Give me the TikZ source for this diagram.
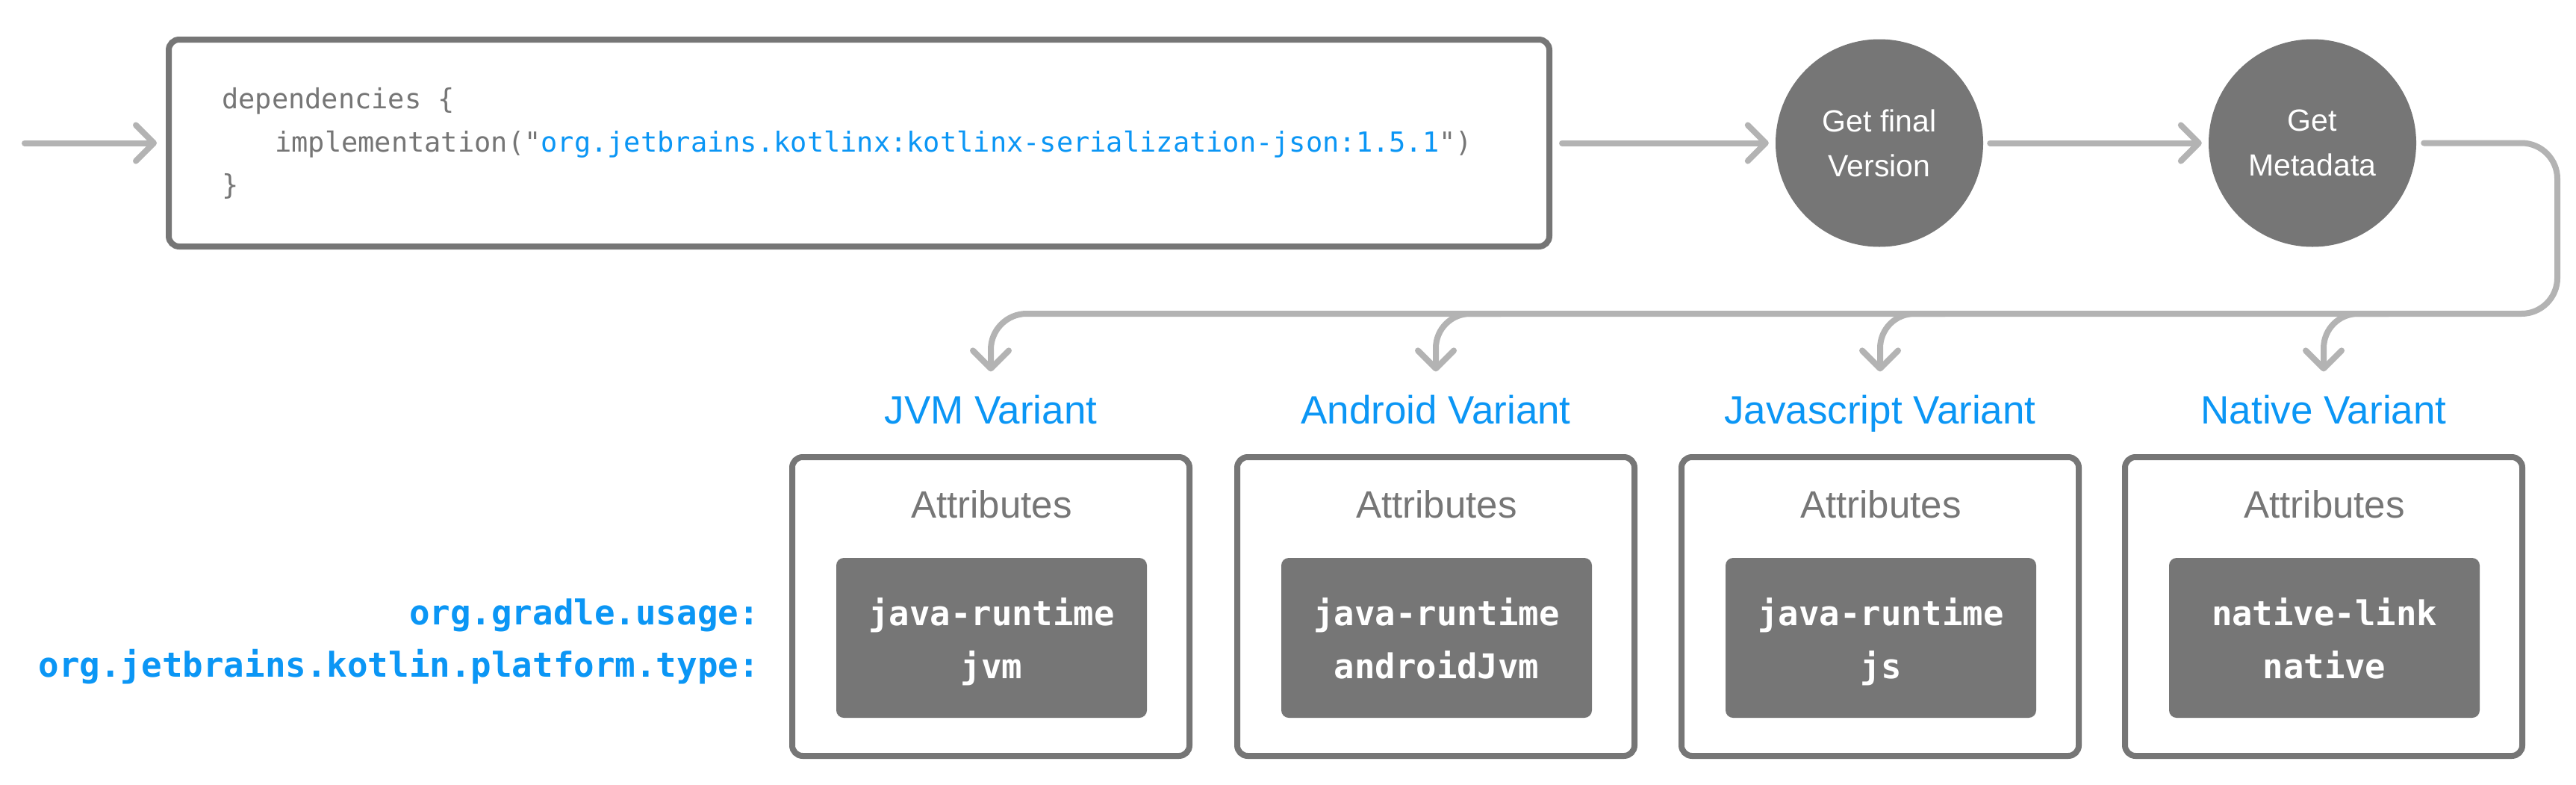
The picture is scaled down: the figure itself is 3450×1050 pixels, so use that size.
\documentclass[tikz,border=0pt]{standalone}
\usepackage{fontspec}
\setmainfont{Liberation Sans}
\setmonofont{DejaVu Sans Mono}
\usetikzlibrary{arrows.meta}
\definecolor{dgray}{HTML}{767676}
\definecolor{lgray}{HTML}{B3B3B3}
\definecolor{kblue}{HTML}{0B96F5}
\begin{document}
\begin{tikzpicture}[x=1pt,y=-1pt,
  conn/.style={draw=lgray,line width=8pt,line cap=round,line join=round},
  arr/.style={conn,-{Straight Barb[length=24pt,width=48pt,round]}},
  codebox/.style={draw=dgray,line width=8pt,rounded corners=14pt,inner sep=0pt,
    minimum width=1849pt,minimum height=277pt},
  codetxt/.style={inner sep=0pt,text=dgray,font=\fontsize{37}{58}\selectfont\ttfamily},
  proc/.style={circle,fill=dgray,minimum size=278pt,inner sep=0pt,text=white,
    align=center,font=\fontsize{41}{60}\selectfont},
  vlabel/.style={inner sep=0pt,text=kblue,font=\fontsize{53}{60}\selectfont},
  vbox/.style={draw=dgray,line width=8pt,rounded corners=14pt,inner sep=0pt,
    minimum width=532pt,minimum height=400pt},
  attr/.style={inner sep=0pt,text=dgray,font=\fontsize{51}{60}\selectfont},
  valbox/.style={fill=dgray,rounded corners=10pt,inner sep=0pt,
    minimum width=416pt,minimum height=214pt},
  valtxt/.style={inner sep=0pt,text=white,font=\fontsize{45.6}{71}\selectfont\ttfamily\bfseries},
  keytxt/.style={inner sep=0pt,text=kblue,font=\fontsize{45.8}{70}\selectfont\ttfamily\bfseries}
]
\useasboundingbox (0,0) rectangle (3450,1050);
\fill[white] (0,0) rectangle (3450,1050);

% code box
\node[codebox] (code) at (1150.5,191.5) {};
\node[codetxt,anchor=base west] (l1) at (297,145) {dependencies \{};
\node[codetxt,anchor=base west] (l2) at (368,203) {implementation("\textcolor{kblue}{org.jetbrains.kotlinx:kotlinx-serialization-json:1.5.1}")};
\node[codetxt,anchor=base west] (l3) at (297,260) {\}};

% process circles
\node[proc] (c1) at (2517,191.5) {Get final\\Version};
\node[proc] (c2) at (3097,191.5) {Get\\Metadata};

% variant labels
\node[vlabel,anchor=base] (v1) at (1327,567) {JVM Variant};
\node[vlabel,anchor=base] (v2) at (1923,567) {Android Variant};
\node[vlabel,anchor=base] (v3) at (2518,567) {Javascript Variant};
\node[vlabel,anchor=base] (v4) at (3112,567) {Native Variant};

% variant boxes
\foreach \i/\cx/\va/\vb in {1/1327/java-runtime/jvm,2/1923/java-runtime/androidJvm,3/2518/java-runtime/js,4/3112/native-link/native}{
  \node[vbox] (b\i) at (\cx,812) {};
  \node[attr,anchor=base] (a\i) at (\cx+1,693) {Attributes};
  \node[valbox] (k\i) at (\cx+1,854) {};
  \node[valtxt,anchor=base] (t\i) at (\cx+1,837) {\begin{tabular}[t]{@{}c@{}}\va\\\vb\end{tabular}};
}

% attribute keys
\node[keytxt,anchor=base east] (keys) at (1017,836) {\begin{tabular}[t]{@{}r@{}}org.gradle.usage:\\org.jetbrains.kotlin.platform.type:\end{tabular}};

% connectors
\coordinate (in) at (33,191.5);
\draw[arr,shorten >=12pt] (in) -- (code.west);
\draw[arr] ([xshift=13pt]code.east) -- ([xshift=-9pt]c1.west);
\draw[arr] ([xshift=9pt]c1.east) -- ([xshift=-9pt]c2.west);
\coordinate (turn) at (3425,191.5);
\coordinate (bus) at (3425,420);
\draw[arr,rounded corners=48pt,shorten >=31pt] ([xshift=10pt]c2.east) -- (turn) -- (bus) -| (v1.north);
\coordinate (f2) at (2010,420);
\coordinate (f3) at (2605,420);
\coordinate (f4) at (3199,420);
\draw[arr,rounded corners=46pt,shorten >=31pt] (f2) -| (v2.north);
\draw[arr,rounded corners=46pt,shorten >=31pt] (f3) -| (v3.north);
\draw[arr,rounded corners=46pt,shorten >=31pt] (f4) -| (v4.north);
\end{tikzpicture}
\end{document}
